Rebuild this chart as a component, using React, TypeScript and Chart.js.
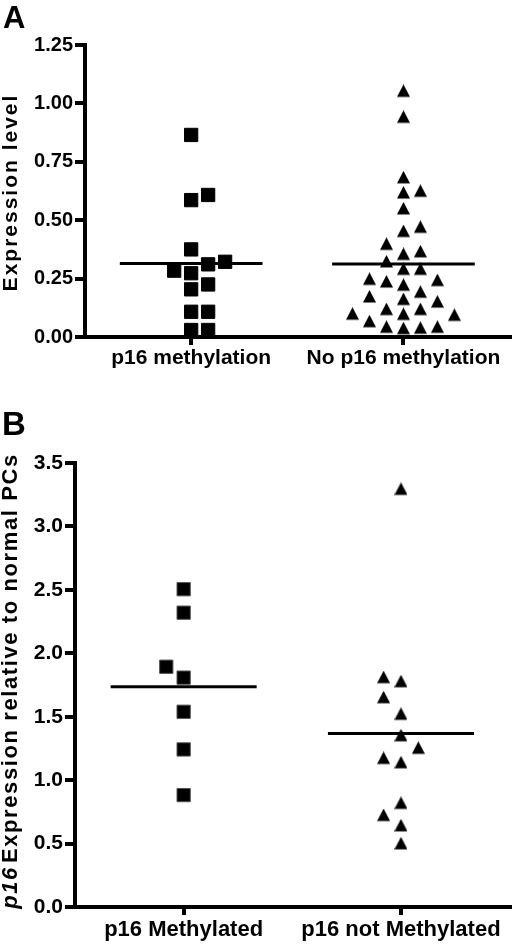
import React, { useEffect, useRef } from "react";
import { Chart, registerables } from "chart.js";

Chart.register(...registerables);

// ---------- data ----------
const categoriesA = ["p16 methylation", "No p16 methylation"];
const methylatedA = [0.865, 0.608, 0.586, 0.375, 0.322, 0.311, 0.284, 0.273, 0.225, 0.204, 0.108, 0.108, 0.03, 0.03];
const unmethylatedA = [
  1.045, 0.934, 0.675, 0.617, 0.61, 0.542, 0.463, 0.445, 0.39, 0.358, 0.347, 0.315, 0.283, 0.283, 0.24, 0.235,
  0.229, 0.215, 0.185, 0.165, 0.154, 0.143, 0.111, 0.111, 0.091, 0.09, 0.086, 0.059, 0.035, 0.035, 0.031, 0.029,
];
const meansA = [0.315, 0.312];
const yTicksA = { min: 0, max: 1.25, step: 0.25, decimals: 2 };
const yTitleA = "Expression level";
const letterA = "A";

const categoriesB = ["p16 Methylated", "p16 not Methylated"];
const methylatedB = [2.505, 2.32, 1.894, 1.808, 1.539, 1.242, 0.882];
const unmethylatedB = [3.28, 1.796, 1.764, 1.638, 1.507, 1.338, 1.239, 1.159, 1.125, 0.805, 0.709, 0.628, 0.486];
const meansB = [1.737, 1.368];
const yTicksB = { min: 0, max: 3.5, step: 0.5, decimals: 1 };
const yTitleBItalic = "p16";
const yTitleB = "Expression relative to normal PCs";
const letterB = "B";

// ---------- helpers ----------
const FONT = '"Liberation Sans", Arial, Helvetica, sans-serif';
const SLOT = 0.08; // horizontal swarm spacing in category units
const HALF_MEAN = 0.336; // half-width of mean line in category units

function swarm(values: number[], threshold: number, dir: number): number[] {
  const order = values.map((_, i) => i).sort((a, b) => values[a] - values[b]);
  const slots = new Array(values.length).fill(0);
  const placed: { s: number; v: number }[] = [];
  const candidates = [0];
  for (let k = 1; k <= 6; k++) candidates.push(dir * k, -dir * k);
  for (const i of order) {
    const v = values[i];
    for (const s of candidates) {
      if (!placed.some((p) => p.s === s && Math.abs(p.v - v) < threshold)) {
        slots[i] = s;
        placed.push({ s, v });
        break;
      }
    }
  }
  return slots;
}

function makeTriangle(w: number, h: number): HTMLCanvasElement {
  const c = document.createElement("canvas");
  const H = Math.round((h * 4) / 3);
  c.width = w;
  c.height = H;
  const ctx = c.getContext("2d")!;
  ctx.fillStyle = "#000";
  ctx.beginPath();
  ctx.moveTo(w / 2, 0);
  ctx.lineTo(w, h);
  ctx.lineTo(0, h);
  ctx.closePath();
  ctx.fill();
  return c;
}

type TitlePart = { text: string; font: string; gapAfter: number };

type PanelSpec = {
  width: number;
  height: number;
  categories: string[];
  groups: number[][];
  means: number[];
  yTicks: { min: number; max: number; step: number; decimals: number };
  threshold: number;
  swarmDir: number;
  padTop: number;
  yWidth: number;
  xHeight: number;
  tickFont: number;
  labelFont: number;
  labelPad: number;
  squareBorder: string;
  letter: string;
  letterFont: string;
  letterX: number;
  letterY: number;
  titleParts: TitlePart[];
  titleSpacing: string;
  titleX: number;
  titleCenterY: number;
};

function buildChart(canvas: HTMLCanvasElement, p: PanelSpec): Chart {
  const tri = makeTriangle(13, 12.5);
  const datasets: any[] = [];
  p.groups.forEach((vals, gi) => {
    const slots = swarm(vals, p.threshold, p.swarmDir);
    datasets.push({
      data: vals.map((v, i) => ({ x: gi + slots[i] * SLOT, y: v })),
      pointStyle: gi === 0 ? "rect" : tri,
      pointRadius: gi === 0 ? 9.4 : 8,
      backgroundColor: "#000",
      borderColor: gi === 0 ? p.squareBorder : "#000",
      borderWidth: gi === 0 ? 1 : 0,
      clip: false,
    });
    datasets.push({
      data: [
        { x: gi - HALF_MEAN, y: p.means[gi] },
        { x: gi + HALF_MEAN, y: p.means[gi] },
      ],
      showLine: true,
      pointRadius: 0,
      borderColor: "#000",
      borderWidth: 3,
      fill: false,
      clip: false,
    });
  });

  const textPlugin = {
    id: "panelText",
    afterDraw(chart: any) {
      const ctx: CanvasRenderingContext2D = chart.ctx;
      ctx.save();
      ctx.fillStyle = "#000";
      ctx.textAlign = "left";
      ctx.textBaseline = "alphabetic";
      ctx.font = p.letterFont;
      ctx.fillText(p.letter, p.letterX, p.letterY);
      (ctx as any).letterSpacing = p.titleSpacing;
      const widths = p.titleParts.map((t) => {
        ctx.font = t.font;
        return ctx.measureText(t.text).width;
      });
      const total = widths.reduce((a, b, i) => a + b + (i < widths.length - 1 ? p.titleParts[i].gapAfter : 0), 0);
      ctx.translate(p.titleX, p.titleCenterY + total / 2);
      ctx.rotate(-Math.PI / 2);
      let cx = 0;
      p.titleParts.forEach((t, i) => {
        ctx.font = t.font;
        ctx.fillText(t.text, cx, 0);
        cx += widths[i] + t.gapAfter;
      });
      ctx.restore();
    },
  };

  return new Chart(canvas, {
    type: "scatter",
    data: { datasets },
    plugins: [textPlugin],
    options: {
      animation: false,
      responsive: false,
      events: [],
      layout: { padding: { top: p.padTop, left: 0, right: 0, bottom: 0 } },
      plugins: { legend: { display: false }, tooltip: { enabled: false }, title: { display: false } },
      scales: {
        x: {
          type: "linear",
          min: -0.5,
          max: 1.5,
          afterBuildTicks: (s: any) => {
            s.ticks = p.categories.map((_, i) => ({ value: i }));
          },
          afterFit: (s: any) => {
            s.height = p.xHeight;
          },
          ticks: {
            callback: (v: any) => p.categories[Number(v)] ?? "",
            font: { family: FONT, size: p.labelFont, weight: "bold" },
            color: "#000",
            padding: p.labelPad,
            maxRotation: 0,
            minRotation: 0,
            autoSkip: false,
          },
          grid: { drawOnChartArea: false, drawTicks: true, tickLength: 8, lineWidth: 4, tickWidth: 4, color: "#000" },
          border: { display: true, width: 4, color: "#000" },
        },
        y: {
          type: "linear",
          min: p.yTicks.min,
          max: p.yTicks.max,
          afterFit: (s: any) => {
            s.width = p.yWidth;
          },
          ticks: {
            stepSize: p.yTicks.step,
            callback: (v: any) => Number(v).toFixed(p.yTicks.decimals),
            font: { family: FONT, size: p.tickFont, weight: "bold" },
            color: "#000",
            padding: 2,
          },
          grid: { drawOnChartArea: false, drawTicks: true, tickLength: 10, lineWidth: 4, tickWidth: 4, color: "#000" },
          border: { display: true, width: 4, color: "#000" },
        },
      },
    } as any,
  });
}

const panelA: PanelSpec = {
  width: 520,
  height: 380,
  categories: categoriesA,
  groups: [methylatedA, unmethylatedA],
  means: meansA,
  yTicks: yTicksA,
  threshold: 0.0605,
  swarmDir: 1,
  padTop: 45,
  yWidth: 85,
  xHeight: 43,
  tickFont: 20,
  labelFont: 21,
  labelPad: 1,
  squareBorder: "#000",
  letter: letterA,
  letterFont: `bold 31px ${FONT}`,
  letterX: 3,
  letterY: 28,
  titleParts: [{ text: yTitleA, font: `bold 21px ${FONT}`, gapAfter: 0 }],
  titleSpacing: "2px",
  titleX: 16.5,
  titleCenterY: 192.5,
};

const panelB: PanelSpec = {
  width: 520,
  height: 565,
  categories: categoriesB,
  groups: [methylatedB, unmethylatedB],
  means: meansB,
  yTicks: yTicksB,
  threshold: 0.134,
  swarmDir: -1,
  padTop: 83,
  yWidth: 75,
  xHeight: 38,
  tickFont: 21,
  labelFont: 22,
  labelPad: 2,
  squareBorder: "#555",
  letter: letterB,
  letterFont: `bold 33px ${FONT}`,
  letterX: 2,
  letterY: 55,
  titleParts: [
    { text: yTitleBItalic, font: `italic bold 22px ${FONT}`, gapAfter: 3 },
    { text: yTitleB, font: `bold 22px ${FONT}`, gapAfter: 0 },
  ],
  titleSpacing: "1.6px",
  titleX: 17,
  titleCenterY: 301,
};

function Panel({ spec, top }: { spec: PanelSpec; top: number }) {
  const ref = useRef<HTMLCanvasElement | null>(null);
  useEffect(() => {
    if (!ref.current) return;
    const chart = buildChart(ref.current, spec);
    return () => chart.destroy();
  }, [spec]);
  return (
    <canvas
      ref={ref}
      width={spec.width}
      height={spec.height}
      style={{ position: "absolute", left: 0, top, width: spec.width, height: spec.height }}
    />
  );
}

export default function App() {
  return (
    <div style={{ position: "absolute", left: 0, top: 0, width: 520, height: 945, background: "#fff" }}>
      <Panel spec={panelA} top={0} />
      <Panel spec={panelB} top={380} />
    </div>
  );
}
